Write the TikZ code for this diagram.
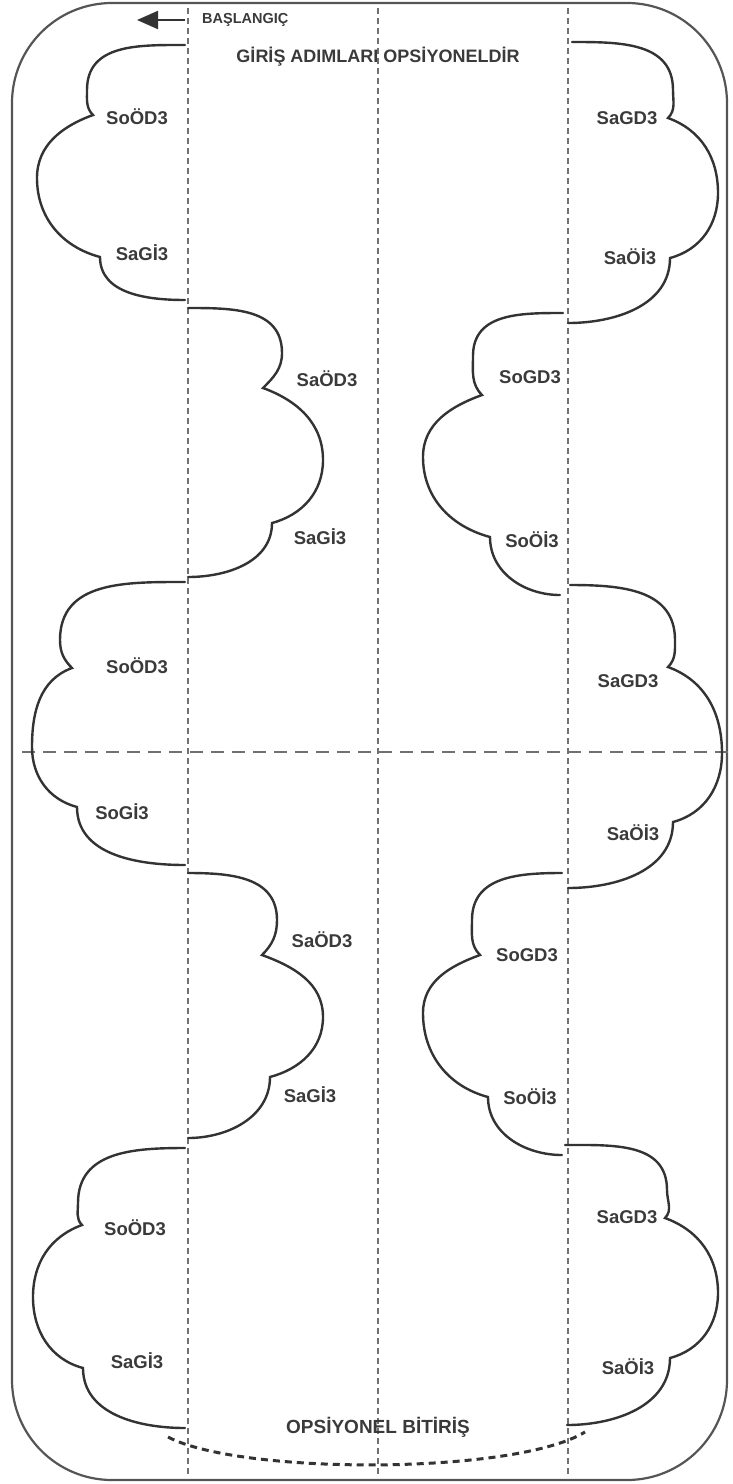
\documentclass[tikz,border=0pt]{standalone}
\usepackage{fontspec}
\setmainfont{Liberation Sans}
\usetikzlibrary{arrows.meta}
\definecolor{ink}{HTML}{333333}
\definecolor{txt}{HTML}{3A3A3A}
\definecolor{guide}{HTML}{707070}
\definecolor{frame}{HTML}{555555}
\begin{document}
\begin{tikzpicture}[x=1pt,y=1pt,
  cloud/.style={draw=ink,line width=2.4pt,line cap=round},
  lbl/.style={font=\fontsize{18.5}{20}\selectfont\bfseries,text=txt,inner sep=0pt},
  captxt/.style={font=\fontsize{18}{20}\selectfont\bfseries,text=txt,inner sep=0pt},
  smalltxt/.style={font=\fontsize{14.5}{16}\selectfont\bfseries,text=txt,inner sep=0pt},
  vguide/.style={draw=guide,line width=1.2pt,dash pattern=on 6pt off 4pt},
  hguide/.style={draw=guide,line width=1.5pt,dash pattern=on 13pt off 8pt},
  endcurve/.style={draw=ink,line width=3pt,dash pattern=on 7pt off 5pt},
  framebox/.style={draw=frame,line width=2.2pt,rounded corners=100pt}]
\useasboundingbox (0,0) rectangle (732,-1484);
% outer frame
\draw[framebox] (12,-3) rectangle (727,-1480);
% guides
\coordinate (v1t) at (188,-8);  \coordinate (v1b) at (188,-1477);
\coordinate (v2t) at (378,-8);  \coordinate (v2b) at (378,-1477);
\coordinate (v3t) at (568,-8);  \coordinate (v3b) at (568,-1477);
\coordinate (hl) at (22,-752);  \coordinate (hr) at (732,-752);
\draw[vguide] (v1t) -- (v1b);
\draw[vguide] (v2t) -- (v2b);
\draw[vguide] (v3t) -- (v3b);
\draw[hguide] (hl) -- (hr);
% start arrow
\node[smalltxt,anchor=west] (start) at (202,-20) {BAŞLANGIÇ};
\coordinate (arrS) at (185,-20);
\coordinate (arrE) at (137,-20);
\draw[draw=ink,fill=ink,line width=2.2pt,-{Triangle[length=21pt,width=18pt]}] (arrS) -- (arrE);
\node[captxt] (title) at (378,-57) {GİRİŞ ADIMLARI OPSİYONELDİR};
\node[captxt,font=\fontsize{19}{20}\selectfont\bfseries] (finish) at (378,-1427) {OPSİYONEL BİTİRİŞ};
% left-bulging clouds
\draw[cloud] (185,-45) to[out=180,in=90,looseness=1.1] (87,-90) to[out=-90,in=135] (93,-115)
  to[out=200,in=90] (37,-178) to[out=-90,in=165] (100,-257) to[out=-90,in=180] (185,-300);
\draw[cloud] (185,-582) to[out=180,in=90,looseness=1.1] (60,-640) to[out=-90,in=135] (72,-668)
  to[out=200,in=90] (32,-747) to[out=-90,in=165] (77,-807) to[out=-90,in=180] (185,-865);
\draw[cloud] (185,-1148) to[out=180,in=90,looseness=1.1] (78,-1203) to[out=-90,in=135] (82,-1225)
  to[out=200,in=90] (33,-1297) to[out=-90,in=165] (83,-1368) to[out=-90,in=180] (185,-1428);
\draw[cloud] (563,-313) to[out=180,in=90,looseness=1.1] (473,-356) to[out=-90,in=135] (482,-395)
  to[out=200,in=90] (423,-457) to[out=-90,in=165] (490,-537) to[out=-90,in=180] (560,-595);
\draw[cloud] (562,-873) to[out=180,in=90,looseness=1.1] (472,-920) to[out=-90,in=135] (480,-955)
  to[out=200,in=90] (423,-1013) to[out=-90,in=165] (488,-1097) to[out=-90,in=180] (562,-1155);
% right-bulging clouds
\draw[cloud] (572,-42) to[out=0,in=90,looseness=1.1] (673,-90) to[out=-90,in=45] (668,-118)
  to[out=-20,in=90] (718,-193) to[out=-90,in=15] (670,-258) to[out=-90,in=0] (568,-323);
\draw[cloud] (570,-585) to[out=0,in=90,looseness=1.1] (675,-640) to[out=-90,in=45] (668,-667)
  to[out=-20,in=90] (722,-753) to[out=-90,in=15] (673,-822) to[out=-90,in=0] (568,-888);
\draw[cloud] (565,-1145) to[out=0,in=90,looseness=1.1] (667,-1190) to[out=-90,in=45] (665,-1218)
  to[out=-20,in=90] (718,-1293) to[out=-90,in=15] (670,-1358) to[out=-90,in=0] (567,-1425);
\draw[cloud] (188,-308) to[out=0,in=90,looseness=1.1] (282,-353) to[out=-90,in=45] (263,-388)
  to[out=-20,in=90] (323,-460) to[out=-90,in=15] (272,-523) to[out=-90,in=0] (188,-577);
\draw[cloud] (188,-873) to[out=0,in=90,looseness=1.1] (277,-920) to[out=-90,in=45] (262,-955)
  to[out=-20,in=90] (323,-1017) to[out=-90,in=15] (270,-1077) to[out=-90,in=0] (188,-1138);
% optional end curve
\coordinate (ea) at (168,-1437);
\coordinate (eb) at (585,-1432);
\draw[endcurve] (ea) .. controls (240,-1475) and (515,-1475) .. (eb);
% labels
\node[lbl] (l1a) at (137,-117) {SoÖD3};
\node[lbl] (l1b) at (142,-253) {SaGİ3};
\node[lbl] (m1a) at (327,-379) {SaÖD3};
\node[lbl] (m1b) at (320,-537) {SaGİ3};
\node[lbl] (m2a) at (530,-377) {SoGD3};
\node[lbl] (m2b) at (532,-540) {SoÖİ3};
\node[lbl] (r1a) at (627,-118) {SaGD3};
\node[lbl] (r1b) at (630,-257) {SaÖİ3};
\node[lbl] (l2a) at (137,-666) {SoÖD3};
\node[lbl] (l2b) at (122,-812) {SoGİ3};
\node[lbl] (r2a) at (628,-681) {SaGD3};
\node[lbl] (r2b) at (633,-833) {SaÖİ3};
\node[lbl] (m3a) at (322,-940) {SaÖD3};
\node[lbl] (m3b) at (310,-1095) {SaGİ3};
\node[lbl] (m4a) at (527,-955) {SoGD3};
\node[lbl] (m4b) at (530,-1097) {SoÖİ3};
\node[lbl] (l3a) at (135,-1228) {SoÖD3};
\node[lbl] (l3b) at (137,-1361) {SaGİ3};
\node[lbl] (r3a) at (627,-1217) {SaGD3};
\node[lbl] (r3b) at (628,-1367) {SaÖİ3};
\end{tikzpicture}
\end{document}
